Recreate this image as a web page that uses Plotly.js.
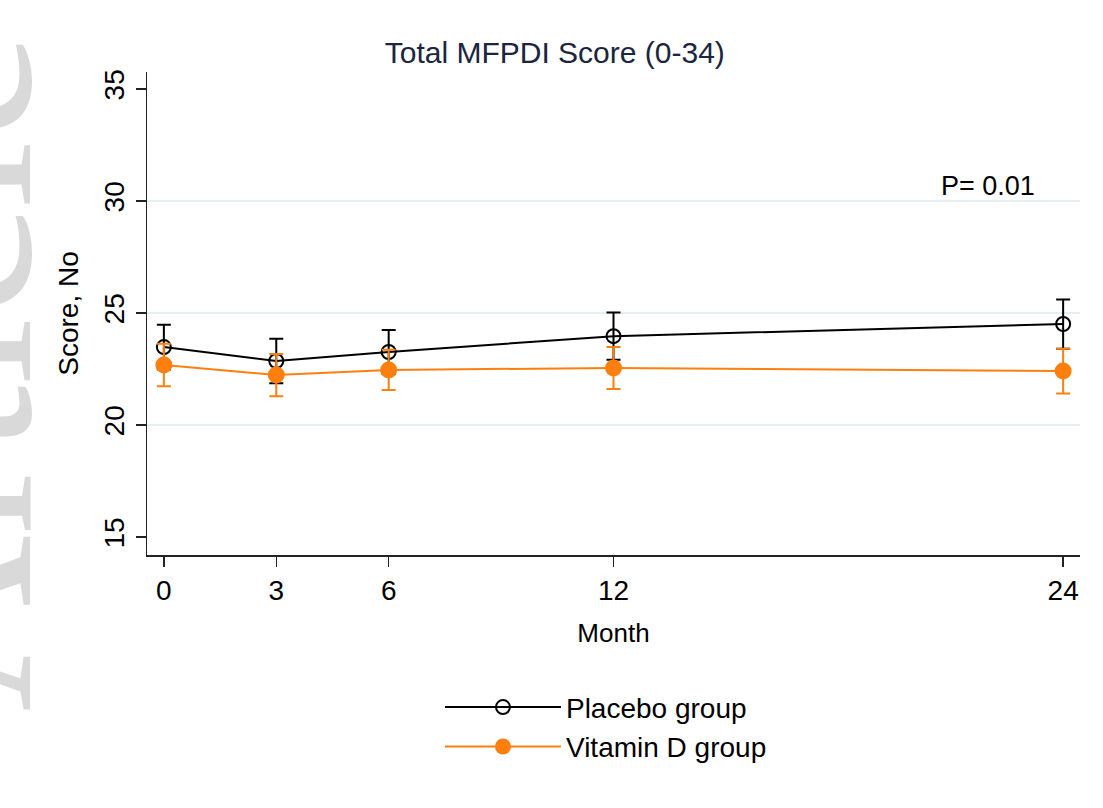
<!DOCTYPE html>
<html>
<head>
<meta charset="utf-8">
<script src="https://cdn.plot.ly/plotly-3.0.1.min.js"></script>
<style>html,body{margin:0;padding:0;background:#fff;}</style>
</head>
<body>
<div id="chart" style="width:1103px;height:808px;"></div>
<script>
// Data
const months = [0, 3, 6, 12, 24];
const placeboMean = [23.48, 22.86, 23.26, 23.97, 24.51];
const placeboErr  = [1.0, 0.99, 0.98, 1.05, 1.1];
const vitDMean    = [22.68, 22.23, 22.46, 22.55, 22.41];
const vitDErr     = [0.95, 0.94, 0.9, 0.94, 1.0];
const yTicks = [15, 20, 25, 30, 35];
const gridValues = [20, 25, 30];
const pLabel = "P= 0.01";
const watermark = "Article";

const font = "Arial, 'Liberation Sans', sans-serif";
const orange = "#ff7f0e";

const traces = [
  {
    x: months, y: placeboMean, name: "Placebo group", type: "scatter", mode: "lines+markers",
    line: {color: "#000000", width: 2},
    marker: {symbol: "circle-open", size: 14, color: "#000000", line: {width: 2, color: "#000000"}},
    error_y: {type: "data", array: placeboErr, visible: true, color: "#000000", thickness: 2, width: 7}
  },
  {
    x: months, y: vitDMean, name: "Vitamin D group", type: "scatter", mode: "lines+markers",
    line: {color: orange, width: 2},
    marker: {symbol: "circle", size: 17, color: orange},
    error_y: {type: "data", array: vitDErr, visible: true, color: orange, thickness: 2, width: 7}
  }
];

const shapes = gridValues.map(v => ({
  type: "line", xref: "paper", x0: 0, x1: 1, yref: "y", y0: v, y1: v,
  line: {color: "#e6eff1", width: 2}, layer: "below"
}));

const layout = {
  width: 1103, height: 808,
  margin: {l: 147, r: 23, t: 72, b: 253},
  paper_bgcolor: "#ffffff", plot_bgcolor: "#ffffff",
  font: {family: font, color: "#000000", size: 28},
  title: {text: "Total MFPDI Score (0-34)", font: {family: font, size: 30, color: "#1a2540"},
          xref: "container", x: 0.503, yref: "container", y: 1 - 52/808, yanchor: "middle", xanchor: "center"},
  xaxis: {
    range: [-0.45, 24.45], tickvals: months, ticktext: months.map(String),
    showgrid: false, zeroline: false, showline: true, linecolor: "#222222", linewidth: 1.5,
    ticks: "outside", ticklen: 10, tickwidth: 1.5, tickcolor: "#222222",
    tickfont: {size: 28, family: font}, ticklabelstandoff: 0,
    title: {text: "Month", font: {size: 26, family: font}, standoff: 18}
  },
  yaxis: {
    range: [14.2, 35.76], tickvals: yTicks, ticktext: yTicks.map(String), tickangle: -90,
    showgrid: false, zeroline: false, showline: true, linecolor: "#222222", linewidth: 1.5,
    ticks: "outside", ticklen: 10, tickwidth: 1.5, tickcolor: "#222222",
    tickfont: {size: 28, family: font}, ticklabelstandoff: 0,
    title: {text: "Score, No", font: {size: 28, family: font}, standoff: 12}
  },
  shapes: shapes,
  annotations: [
    {text: pLabel, xref: "x", yref: "y", x: 22, y: 30.65, showarrow: false,
     font: {size: 27, family: font, color: "#000000"}, xanchor: "center", yanchor: "middle"},
    {text: watermark, xref: "paper", yref: "paper", x: (-53 - 147) / 933, y: (555 - 30) / 483,
     xanchor: "center", yanchor: "top", textangle: -90, showarrow: false,
     font: {size: 245, family: "'Liberation Serif', 'Times New Roman', serif", color: "#d9d9d9"}}
  ],
  showlegend: true,
  legend: {
    orientation: "v", x: 0.314, xanchor: "left", y: -0.2638, yanchor: "top",
    font: {size: 28, family: font}, itemwidth: 116, tracegroupgap: 0,
    bgcolor: "rgba(0,0,0,0)", borderwidth: 0
  }
};

Plotly.newPlot("chart", traces, layout, {displayModeBar: false, staticPlot: true});
</script>
</body>
</html>
